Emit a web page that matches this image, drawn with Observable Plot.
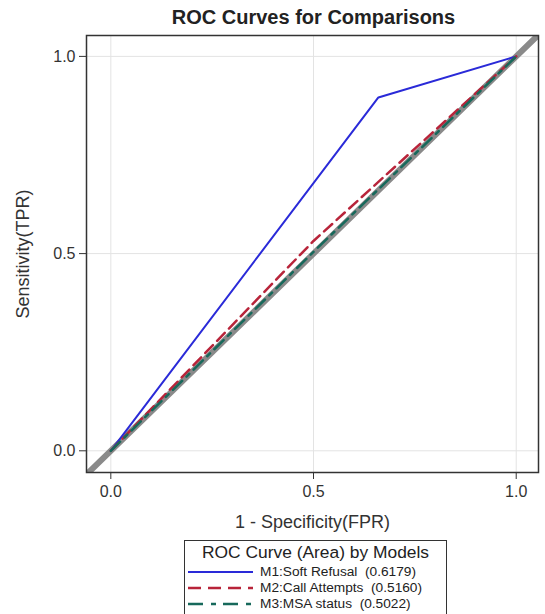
<!DOCTYPE html>
<html>
<head>
<meta charset="utf-8">
<script src="https://cdn.jsdelivr.net/npm/d3@7"></script>
<script src="https://cdn.jsdelivr.net/npm/@observablehq/plot@0.6"></script>
<style>
  html, body { margin: 0; padding: 0; background: #fff; }
  body { width: 545px; height: 614px; position: relative; overflow: hidden;
         font-family: "Liberation Sans", Arial, sans-serif; color: #222; }
  #title { position: absolute; left: 0; top: 5px; width: 627px; text-align: center;
           font-weight: bold; font-size: 20px; line-height: 24px; white-space: nowrap; }
  #chart { position: absolute; left: 0; top: 28px; }
  #legend { position: absolute; left: 184px; top: 540px; width: 263px; height: 90px;
            border: 1px solid #333; box-sizing: border-box; font-size: 13.7px; }
  #legend .lt { text-align: center; font-size: 17.4px; line-height: 20px; margin-top: 1px; margin-bottom: 2px; white-space: nowrap; }
  #legend .row { display: flex; align-items: center; height: 16px; line-height: 16px; white-space: nowrap; }
  #legend svg { margin-left: 3px; margin-right: 7px; }
</style>
</head>
<body>
<div id="title">ROC Curves for Comparisons</div>
<div id="chart"></div>
<div id="legend"></div>
<script>
// ---- data ----
const models = ["M1:Soft Refusal", "M2:Call Attempts", "M3:MSA status"];
const areas = ["0.6179", "0.5160", "0.5022"];
const fpr1 = [0, 0.66, 1];
const tpr1 = [0, 0.896, 1];
const fpr2 = [0, 0.50, 1];
const tpr2 = [0, 0.532, 1];
const fpr3 = [0, 0.50, 1];
const tpr3 = [0, 0.5044, 1];
const ticks = [0, 0.5, 1];
const xLabel = "1 - Specificity(FPR)";
const yLabel = "Sensitivity(TPR)";

// ---- styles ----
const colors = ["#2a2ad8", "#b8243a", "#17695b"];
const dashes = [null, "11,6", "13,6,4,6"];
const widths = [2, 2.5, 2.5];
const xDomain = [-0.06, 1.055];
const yDomain = [-0.055, 1.053];

const series = [[fpr1, tpr1], [fpr2, tpr2], [fpr3, tpr3]].map(([f, t], i) =>
  f.map((v, j) => ({model: models[i], fpr: v, tpr: t[j]})));
const diag = [{v: Math.min(xDomain[0], yDomain[0])}, {v: Math.max(xDomain[1], yDomain[1])}];

const plot = Plot.plot({
  width: 545,
  height: 507,
  marginLeft: 86,
  marginRight: 7,
  marginTop: 7,
  marginBottom: 63,
  style: {fontFamily: "'Liberation Sans', Arial, sans-serif", color: "#333", background: "#fff"},
  x: {domain: xDomain},
  y: {domain: yDomain},
  marks: [
    Plot.gridX(ticks, {stroke: "#e3e3e3", strokeOpacity: 1, strokeWidth: 1}),
    Plot.gridY(ticks, {stroke: "#e3e3e3", strokeOpacity: 1, strokeWidth: 1}),
    Plot.line(diag, {x: "v", y: "v", stroke: "#8a8a8a", strokeWidth: 6, clip: true}),
    ...series.map((s, i) => Plot.line(s, {
      x: "fpr", y: "tpr", stroke: colors[i], strokeWidth: widths[i],
      strokeDasharray: dashes[i] || undefined, clip: true
    })),
    Plot.frame({stroke: "#333", strokeWidth: 1.5}),
    Plot.axisX(ticks, {tickFormat: d3.format(".1f"), tickSize: 7, tickPadding: 6, fontSize: 16, label: null, stroke: "#333"}),
    Plot.axisY(ticks, {tickFormat: d3.format(".1f"), tickSize: 7, tickPadding: 4, fontSize: 16, label: null, stroke: "#333"}),
    Plot.text([xLabel], {text: d => d, frameAnchor: "bottom", dy: 50, textAnchor: "middle", lineAnchor: "middle", fontSize: 18, fill: "#333"}),
    Plot.text([yLabel], {text: d => d, frameAnchor: "left", dx: -63, rotate: -90, textAnchor: "middle", lineAnchor: "middle", fontSize: 18, fill: "#333"})
  ]
});
document.getElementById("chart").appendChild(plot);

// ---- legend ----
const legend = document.getElementById("legend");
const lt = document.createElement("div");
lt.className = "lt";
lt.textContent = "ROC Curve (Area) by Models";
legend.appendChild(lt);
models.forEach((m, i) => {
  const row = document.createElement("div");
  row.className = "row";
  const ns = "http://www.w3.org/2000/svg";
  const sv = document.createElementNS(ns, "svg");
  sv.setAttribute("width", 65); sv.setAttribute("height", 10);
  const ln = document.createElementNS(ns, "line");
  ln.setAttribute("x1", 0); ln.setAttribute("x2", 65);
  ln.setAttribute("y1", 5); ln.setAttribute("y2", 5);
  ln.setAttribute("stroke", colors[i]);
  ln.setAttribute("stroke-width", widths[i]);
  if (dashes[i]) ln.setAttribute("stroke-dasharray", i === 1 ? "13,7" : "15,8,5,7");
  sv.appendChild(ln);
  row.appendChild(sv);
  const tx = document.createElement("span");
  tx.textContent = m + "  (" + areas[i] + ")";
  tx.style.whiteSpace = "pre";
  row.appendChild(tx);
  legend.appendChild(row);
});
</script>
</body>
</html>
